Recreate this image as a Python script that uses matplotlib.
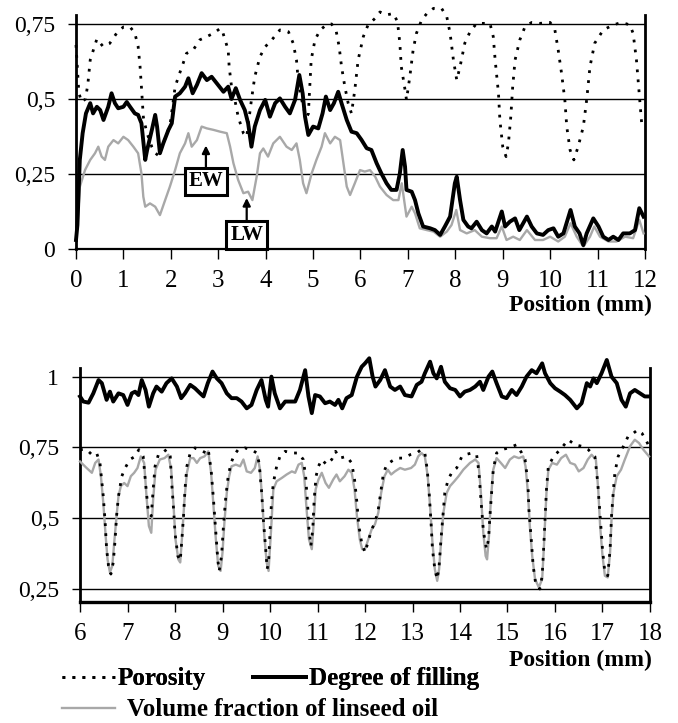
import numpy as np
from matplotlib import pyplot as plt
from matplotlib.lines import Line2D

plt.rcParams["font.family"] = ["Liberation Serif", "DejaVu Serif"]

# --- top panel: 0-12 mm -------------------------------------------------
top_poro_x = [0.0, 0.03, 0.06, 0.12, 0.2, 0.25, 0.30, 0.44, 0.57, 0.71, 0.86, 1.0, 1.14,
              1.24, 1.31, 1.35, 1.38, 1.42, 1.49, 1.60, 1.67, 1.75, 1.88, 1.98, 2.09, 2.16,
              2.26, 2.33, 2.47, 2.61, 2.76, 2.90, 3.04, 3.08, 3.21, 3.23, 3.28, 3.35, 3.42,
              3.53, 3.60, 3.70, 3.77, 3.88, 3.99, 4.13, 4.30, 4.48, 4.58, 4.65, 4.68, 4.72,
              4.79, 4.86, 4.90, 4.93, 4.96, 5.04, 5.15, 5.28, 5.39, 5.49, 5.55, 5.60, 5.67,
              5.74, 5.81, 5.88, 5.95, 6.06, 6.16, 6.31, 6.41, 6.55, 6.69, 6.78, 6.83, 6.86,
              6.94, 6.97, 7.04, 7.11, 7.18, 7.29, 7.40, 7.54, 7.71, 7.82, 7.89, 7.96, 8.03,
              8.10, 8.20, 8.31, 8.45, 8.59, 8.73, 8.80, 8.84, 8.91, 8.94, 9.0, 9.07, 9.12,
              9.17, 9.21, 9.26, 9.36, 9.47, 9.61, 9.78, 10.0, 10.1, 10.17, 10.24, 10.31,
              10.35, 10.42, 10.50, 10.59, 10.70, 10.77, 10.84, 10.94, 11.12, 11.33, 11.51,
              11.68, 11.75, 11.82, 11.86, 11.89, 11.93, 11.97]
top_poro = [0.68, 0.60, 0.52, 0.49, 0.50, 0.55, 0.63, 0.70, 0.675, 0.685, 0.72, 0.74, 0.74,
            0.72, 0.675, 0.61, 0.54, 0.44, 0.39, 0.34, 0.32, 0.31, 0.37, 0.41, 0.54, 0.574,
            0.619, 0.652, 0.663, 0.697, 0.708, 0.719, 0.735, 0.73, 0.663, 0.608, 0.541, 0.497,
            0.441, 0.386, 0.374, 0.497, 0.574, 0.641, 0.674, 0.697, 0.73, 0.724, 0.686, 0.63,
            0.574, 0.53, 0.474, 0.44, 0.45, 0.541, 0.63, 0.697, 0.73, 0.747, 0.75, 0.724,
            0.674, 0.608, 0.541, 0.486, 0.452, 0.53, 0.63, 0.708, 0.747, 0.769, 0.79, 0.78,
            0.785, 0.758, 0.686, 0.608, 0.53, 0.497, 0.574, 0.663, 0.719, 0.763, 0.785, 0.802,
            0.802, 0.774, 0.719, 0.63, 0.563, 0.608, 0.686, 0.724, 0.752, 0.752, 0.752, 0.708,
            0.63, 0.519, 0.43, 0.341, 0.308, 0.352, 0.441, 0.541, 0.63, 0.697, 0.741, 0.755,
            0.752, 0.755, 0.73, 0.663, 0.586, 0.497, 0.408, 0.33, 0.297, 0.341, 0.408, 0.497,
            0.608, 0.686, 0.73, 0.747, 0.755, 0.747, 0.719, 0.63, 0.552, 0.497, 0.419, 0.42]

top_fill_x = [0.0, 0.03, 0.05, 0.08, 0.14, 0.21, 0.30, 0.36, 0.44, 0.51, 0.58, 0.68, 0.75,
              0.82, 0.89, 1.0, 1.07, 1.14, 1.24, 1.31, 1.38, 1.46, 1.50, 1.60, 1.67, 1.71,
              1.77, 1.84, 1.95, 2.02, 2.09, 2.19, 2.30, 2.37, 2.46, 2.55, 2.65, 2.76, 2.86,
              2.97, 3.11, 3.21, 3.28, 3.37, 3.46, 3.56, 3.63, 3.70, 3.77, 3.88, 3.99, 4.09,
              4.20, 4.30, 4.41, 4.51, 4.62, 4.71, 4.78, 4.83, 4.90, 5.0, 5.11, 5.20, 5.27,
              5.36, 5.44, 5.53, 5.60, 5.71, 5.81, 5.92, 6.02, 6.13, 6.23, 6.34, 6.44, 6.55,
              6.65, 6.76, 6.83, 6.89, 6.94, 6.97, 7.08, 7.15, 7.22, 7.32, 7.47, 7.57, 7.68,
              7.78, 7.89, 7.99, 8.03, 8.10, 8.17, 8.27, 8.34, 8.45, 8.56, 8.66, 8.77, 8.84,
              8.98, 9.05, 9.15, 9.26, 9.35, 9.51, 9.61, 9.72, 9.85, 9.96, 10.07, 10.17,
              10.28, 10.43, 10.52, 10.62, 10.70, 10.77, 10.91, 11.02, 11.12, 11.23, 11.33,
              11.44, 11.54, 11.68, 11.79, 11.88, 11.97]
top_fill = [0.03, 0.08, 0.163, 0.297, 0.386, 0.452, 0.486, 0.452, 0.474, 0.463, 0.43, 0.474,
            0.519, 0.486, 0.469, 0.474, 0.49, 0.474, 0.452, 0.447, 0.419, 0.297, 0.33, 0.397,
            0.447, 0.408, 0.319, 0.352, 0.397, 0.419, 0.508, 0.519, 0.541, 0.569, 0.519,
            0.547, 0.586, 0.563, 0.574, 0.552, 0.524, 0.541, 0.5, 0.536, 0.497, 0.463, 0.419,
            0.341, 0.408, 0.463, 0.497, 0.441, 0.486, 0.502, 0.474, 0.452, 0.497, 0.58, 0.519,
            0.441, 0.38, 0.408, 0.402, 0.452, 0.508, 0.463, 0.486, 0.524, 0.486, 0.43, 0.391,
            0.386, 0.364, 0.336, 0.33, 0.286, 0.252, 0.219, 0.197, 0.197, 0.252, 0.33, 0.274,
            0.197, 0.191, 0.163, 0.119, 0.075, 0.069, 0.063, 0.047, 0.075, 0.108, 0.219,
            0.241, 0.163, 0.097, 0.075, 0.069, 0.091, 0.063, 0.052, 0.075, 0.058, 0.125,
            0.075, 0.091, 0.102, 0.063, 0.108, 0.075, 0.052, 0.047, 0.063, 0.069, 0.041,
            0.052, 0.13, 0.075, 0.052, 0.013, 0.052, 0.102, 0.075, 0.041, 0.03, 0.041, 0.03,
            0.052, 0.052, 0.063, 0.136, 0.108]

top_oil_x = [0.0, 0.04, 0.08, 0.19, 0.30, 0.40, 0.47, 0.54, 0.61, 0.68, 0.79, 0.89, 1.0,
             1.10, 1.21, 1.31, 1.38, 1.42, 1.46, 1.56, 1.67, 1.77, 1.88, 1.98, 2.09, 2.19,
             2.30, 2.37, 2.44, 2.55, 2.65, 2.76, 2.90, 3.04, 3.18, 3.25, 3.32, 3.42, 3.53,
             3.63, 3.72, 3.81, 3.88, 3.95, 4.05, 4.16, 4.30, 4.44, 4.55, 4.65, 4.72, 4.79,
             4.86, 4.97, 5.07, 5.18, 5.25, 5.36, 5.46, 5.57, 5.64, 5.71, 5.78, 5.88, 5.99,
             6.09, 6.20, 6.31, 6.41, 6.55, 6.69, 6.80, 6.87, 6.97, 7.08, 7.15, 7.25, 7.40,
             7.54, 7.68, 7.82, 7.92, 8.02, 8.10, 8.24, 8.41, 8.56, 8.73, 8.87, 8.98, 9.08,
             9.22, 9.36, 9.51, 9.68, 9.85, 10.0, 10.17, 10.31, 10.43, 10.56, 10.70, 10.84,
             10.93, 11.05, 11.23, 11.40, 11.58, 11.75, 11.88, 11.97]
top_oil = [0.03, 0.10, 0.207, 0.263, 0.297, 0.319, 0.341, 0.308, 0.297, 0.341, 0.363, 0.352,
           0.374, 0.363, 0.341, 0.319, 0.252, 0.174, 0.141, 0.152, 0.141, 0.113, 0.163, 0.208,
           0.263, 0.319, 0.352, 0.386, 0.341, 0.363, 0.408, 0.402, 0.397, 0.391, 0.386, 0.341,
           0.286, 0.23, 0.186, 0.191, 0.163, 0.241, 0.319, 0.335, 0.308, 0.352, 0.374, 0.341,
           0.33, 0.352, 0.297, 0.219, 0.186, 0.252, 0.297, 0.341, 0.386, 0.352, 0.374, 0.363,
           0.286, 0.208, 0.18, 0.219, 0.263, 0.258, 0.263, 0.241, 0.208, 0.18, 0.163, 0.163,
           0.219, 0.108, 0.141, 0.119, 0.069, 0.063, 0.058, 0.041, 0.058, 0.08, 0.13, 0.063,
           0.052, 0.063, 0.041, 0.036, 0.036, 0.075, 0.03, 0.041, 0.03, 0.063, 0.03, 0.03,
           0.041, 0.025, 0.041, 0.086, 0.041, 0.008, 0.041, 0.075, 0.041, 0.025, 0.025, 0.041,
           0.036, 0.097, 0.052]

# --- bottom panel: 6-18 mm ----------------------------------------------
bot_fill_x = [6.0, 6.07, 6.18, 6.28, 6.39, 6.46, 6.56, 6.63, 6.70, 6.81, 6.91, 7.0, 7.09,
              7.16, 7.23, 7.30, 7.38, 7.45, 7.54, 7.61, 7.72, 7.82, 7.93, 8.04, 8.13, 8.21,
              8.32, 8.42, 8.53, 8.60, 8.69, 8.79, 8.88, 8.98, 9.09, 9.19, 9.30, 9.40, 9.51,
              9.61, 9.72, 9.82, 9.91, 9.96, 10.03, 10.1, 10.21, 10.32, 10.42, 10.53, 10.63,
              10.74, 10.81, 10.88, 10.95, 11.05, 11.16, 11.26, 11.37, 11.44, 11.52, 11.61,
              11.72, 11.83, 11.93, 12.0, 12.09, 12.16, 12.22, 12.32, 12.42, 12.53, 12.63,
              12.74, 12.84, 12.98, 13.09, 13.19, 13.26, 13.37, 13.44, 13.51, 13.6, 13.68,
              13.79, 13.90, 14.0, 14.1, 14.21, 14.32, 14.42, 14.49, 14.6, 14.68, 14.77, 14.88,
              14.98, 15.09, 15.19, 15.30, 15.40, 15.51, 15.61, 15.73, 15.79, 15.90, 16.0,
              16.11, 16.21, 16.32, 16.46, 16.56, 16.67, 16.74, 16.81, 16.88, 16.98, 17.09,
              17.19, 17.30, 17.40, 17.49, 17.58, 17.68, 17.79, 17.89, 17.98]
bot_fill = [0.93, 0.912, 0.908, 0.941, 0.988, 0.977, 0.918, 0.947, 0.912, 0.941, 0.935, 0.90,
            0.941, 0.947, 0.935, 0.988, 0.953, 0.894, 0.941, 0.965, 0.947, 0.977, 0.994, 0.965,
            0.924, 0.941, 0.971, 0.959, 0.941, 0.93, 0.977, 1.018, 0.994, 0.977, 0.941, 0.924,
            0.924, 0.912, 0.888, 0.90, 0.953, 0.988, 0.918, 0.894, 1.0, 0.941, 0.888, 0.912,
            0.912, 0.912, 0.953, 1.023, 0.93, 0.871, 0.935, 0.93, 0.906, 0.912, 0.90, 0.918,
            0.888, 0.924, 0.935, 1.0, 1.035, 1.047, 1.065, 1.0, 0.965, 0.988, 1.023, 0.965,
            0.953, 0.965, 0.935, 0.93, 0.971, 0.982, 1.012, 1.053, 1.012, 0.994, 1.035, 0.982,
            0.959, 0.953, 0.93, 0.947, 0.953, 0.965, 0.982, 0.953, 1.0, 1.018, 0.977, 0.93,
            0.924, 0.953, 0.935, 0.965, 1.0, 1.023, 1.012, 1.047, 1.012, 0.977, 0.959, 0.947,
            0.935, 0.918, 0.888, 0.906, 0.977, 0.965, 0.994, 0.977, 1.012, 1.059, 1.0, 0.977,
            0.918, 0.894, 0.941, 0.953, 0.941, 0.93, 0.93]

bot_poro_x = [6.0, 6.14, 6.25, 6.35, 6.42, 6.49, 6.53, 6.56, 6.60, 6.65, 6.70, 6.74, 6.77,
              6.81, 6.88, 6.95, 7.05, 7.16, 7.24, 7.33, 7.38, 7.44, 7.50, 7.54, 7.58, 7.65,
              7.73, 7.82, 7.90, 7.93, 7.97, 8.0, 8.06, 8.11, 8.14, 8.18, 8.21, 8.25, 8.32,
              8.42, 8.53, 8.65, 8.70, 8.76, 8.81, 8.86, 8.90, 8.93, 8.98, 9.02, 9.07, 9.12,
              9.18, 9.25, 9.33, 9.47, 9.61, 9.72, 9.77, 9.82, 9.86, 9.91, 9.94, 9.97, 10.0,
              10.03, 10.07, 10.14, 10.21, 10.32, 10.46, 10.6, 10.70, 10.75, 10.79, 10.82,
              10.86, 10.90, 10.93, 10.97, 11.02, 11.09, 11.19, 11.30, 11.38, 11.47, 11.61,
              11.72, 11.78, 11.83, 11.87, 11.93, 12.0, 12.07, 12.14, 12.21, 12.28, 12.34,
              12.39, 12.46, 12.56, 12.67, 12.81, 12.95, 13.09, 13.18, 13.26, 13.31, 13.35,
              13.39, 13.42, 13.47, 13.52, 13.56, 13.60, 13.64, 13.68, 13.75, 13.84, 13.93,
              14.04, 14.1, 14.25, 14.35, 14.4, 14.44, 14.49, 14.53, 14.56, 14.6, 14.63, 14.67,
              14.70, 14.77, 14.88, 15.02, 15.19, 15.30, 15.37, 15.43, 15.45, 15.50, 15.54,
              15.59, 15.68, 15.73, 15.76, 15.79, 15.82, 15.86, 15.97, 16.11, 16.28, 16.42,
              16.56, 16.70, 16.84, 16.90, 16.95, 17.0, 17.05, 17.11, 17.16, 17.19, 17.23,
              17.26, 17.33, 17.44, 17.54, 17.65, 17.74, 17.83, 17.91, 17.98]
bot_poro = [0.742, 0.742, 0.724, 0.73, 0.695, 0.577, 0.484, 0.39, 0.331, 0.302, 0.343, 0.425,
            0.507, 0.577, 0.648, 0.677, 0.707, 0.718, 0.742, 0.718, 0.624, 0.519, 0.507, 0.601,
            0.683, 0.724, 0.73, 0.742, 0.718, 0.624, 0.531, 0.448, 0.366, 0.349, 0.413, 0.507,
            0.601, 0.683, 0.73, 0.748, 0.742, 0.73, 0.742, 0.671, 0.566, 0.448, 0.354, 0.313,
            0.366, 0.472, 0.577, 0.648, 0.695, 0.724, 0.742, 0.748, 0.742, 0.73, 0.695, 0.601,
            0.495, 0.39, 0.32, 0.343, 0.448, 0.554, 0.624, 0.683, 0.718, 0.736, 0.73, 0.73,
            0.707, 0.648, 0.554, 0.46, 0.401, 0.46, 0.566, 0.648, 0.683, 0.707, 0.689, 0.707,
            0.736, 0.712, 0.718, 0.695, 0.636, 0.554, 0.472, 0.413, 0.378, 0.419, 0.46, 0.484,
            0.531, 0.601, 0.66, 0.689, 0.701, 0.712, 0.712, 0.724, 0.73, 0.742, 0.73, 0.671,
            0.589, 0.484, 0.39, 0.319, 0.284, 0.331, 0.425, 0.507, 0.589, 0.636, 0.665, 0.677,
            0.718, 0.724, 0.73, 0.724, 0.66, 0.566, 0.46, 0.413, 0.39, 0.425, 0.507, 0.601,
            0.671, 0.73, 0.742, 0.748, 0.759, 0.73, 0.707, 0.624, 0.531, 0.425, 0.331, 0.272,
            0.249, 0.296, 0.39, 0.495, 0.601, 0.683, 0.718, 0.742, 0.777, 0.759, 0.754, 0.742,
            0.718, 0.624, 0.507, 0.39, 0.308, 0.296, 0.39, 0.507, 0.601, 0.66, 0.718, 0.754,
            0.789, 0.80, 0.812, 0.80, 0.777, 0.754]

bot_oil_x = [6.0, 6.14, 6.25, 6.32, 6.39, 6.44, 6.49, 6.54, 6.58, 6.63, 6.68, 6.72, 6.77,
             6.81, 6.86, 6.93, 7.0, 7.07, 7.14, 7.21, 7.28, 7.35, 7.40, 7.45, 7.50, 7.54,
             7.59, 7.68, 7.78, 7.86, 7.92, 7.97, 8.01, 8.07, 8.11, 8.15, 8.20, 8.25, 8.32,
             8.39, 8.46, 8.53, 8.62, 8.70, 8.76, 8.81, 8.86, 8.91, 8.96, 9.0, 9.04, 9.09,
             9.14, 9.19, 9.28, 9.37, 9.44, 9.51, 9.6, 9.68, 9.74, 9.79, 9.84, 9.88, 9.93,
             9.97, 10.02, 10.07, 10.14, 10.25, 10.35, 10.46, 10.53, 10.6, 10.67, 10.72,
             10.77, 10.82, 10.88, 10.92, 10.96, 11.02, 11.09, 11.17, 11.24, 11.33, 11.40,
             11.47, 11.57, 11.65, 11.72, 11.78, 11.83, 11.89, 11.94, 12.0, 12.07, 12.14,
             12.21, 12.28, 12.34, 12.41, 12.48, 12.55, 12.63, 12.74, 12.84, 12.97, 13.05,
             13.12, 13.19, 13.26, 13.32, 13.37, 13.42, 13.47, 13.52, 13.56, 13.60, 13.65,
             13.72, 13.79, 13.88, 13.97, 14.07, 14.21, 14.32, 14.39, 14.44, 14.49, 14.54,
             14.57, 14.61, 14.65, 14.70, 14.77, 14.86, 14.95, 15.05, 15.14, 15.24, 15.33,
             15.38, 15.43, 15.47, 15.52, 15.58, 15.66, 15.73, 15.76, 15.79, 15.82, 15.86,
             15.94, 16.04, 16.13, 16.23, 16.32, 16.42, 16.50, 16.60, 16.69, 16.77, 16.86,
             16.91, 16.95, 17.0, 17.05, 17.11, 17.16, 17.19, 17.23, 17.30, 17.39, 17.47,
             17.58, 17.68, 17.77, 17.86, 17.98]
bot_oil = [0.70, 0.677, 0.66, 0.695, 0.707, 0.648, 0.554, 0.437, 0.354, 0.308, 0.331, 0.413,
           0.507, 0.577, 0.613, 0.624, 0.613, 0.648, 0.66, 0.677, 0.718, 0.695, 0.577, 0.472,
           0.448, 0.566, 0.671, 0.707, 0.712, 0.724, 0.671, 0.542, 0.425, 0.354, 0.343, 0.437,
           0.566, 0.66, 0.712, 0.712, 0.695, 0.712, 0.718, 0.736, 0.66, 0.542, 0.425, 0.331,
           0.313, 0.378, 0.484, 0.589, 0.648, 0.683, 0.689, 0.683, 0.707, 0.665, 0.66, 0.677,
           0.718, 0.671, 0.554, 0.437, 0.343, 0.313, 0.45, 0.601, 0.63, 0.642, 0.654, 0.665,
           0.66, 0.689, 0.695, 0.648, 0.531, 0.425, 0.39, 0.484, 0.601, 0.636, 0.66, 0.624,
           0.607, 0.636, 0.654, 0.63, 0.648, 0.671, 0.66, 0.601, 0.507, 0.425, 0.39, 0.39,
           0.425, 0.46, 0.478, 0.519, 0.589, 0.648, 0.671, 0.654, 0.665, 0.677, 0.671, 0.677,
           0.689, 0.718, 0.73, 0.718, 0.648, 0.542, 0.413, 0.319, 0.278, 0.319, 0.413, 0.519,
           0.589, 0.613, 0.63, 0.648, 0.671, 0.695, 0.707, 0.695, 0.589, 0.448, 0.366, 0.354,
           0.437, 0.566, 0.671, 0.712, 0.695, 0.677, 0.707, 0.718, 0.712, 0.718, 0.683, 0.589,
           0.472, 0.366, 0.284, 0.255, 0.284, 0.378, 0.484, 0.589, 0.671, 0.695, 0.689, 0.712,
           0.724, 0.695, 0.689, 0.665, 0.677, 0.707, 0.724, 0.707, 0.601, 0.472, 0.366, 0.296,
           0.29, 0.378, 0.495, 0.589, 0.648, 0.671, 0.707, 0.754, 0.777, 0.765, 0.742, 0.718]

top_yticks = [0, 0.25, 0.5, 0.75]
top_ylabels = ["0", "0,25", "0,5", "0,75"]
bot_yticks = [0.25, 0.5, 0.75, 1.0]
bot_ylabels = ["0,25", "0,5", "0,75", "1"]

GRAY = "#a8a8a8"
poro_style = dict(color="black", lw=2.0, linestyle=(0, (1, 2.6)), dash_capstyle="butt")
fill_style = dict(color="black", lw=2.8, solid_joinstyle="round")
oil_style = dict(color=GRAY, lw=1.7)

fig = plt.figure(figsize=(6.78, 7.23), dpi=100)
ax1 = fig.add_axes([0.1121, 0.6556, 0.8392, 0.3237])
ax2 = fig.add_axes([0.1180, 0.1678, 0.8407, 0.3232])


def style_axes(ax, xlim, ylim, yticks, ylabels, bottom_lw):
    ax.set_xlim(*xlim)
    ax.set_ylim(*ylim)
    ax.set_xticks(range(int(xlim[0]), int(xlim[1]) + 1))
    ax.set_yticks(yticks)
    ax.set_yticklabels(ylabels)
    ax.spines["top"].set_visible(False)
    ax.spines["left"].set_linewidth(2.0)
    ax.spines["right"].set_linewidth(2.0)
    ax.spines["bottom"].set_linewidth(bottom_lw)
    ax.tick_params(axis="y", direction="out", length=6, width=1, pad=9, labelsize=17)
    ax.tick_params(axis="x", direction="out", length=7, width=1, pad=8, labelsize=18)
    ax.grid(axis="y", color="black", lw=1.0)
    ax.set_axisbelow(True)


style_axes(ax1, (0, 12), (0, 0.78), top_yticks, top_ylabels, 1.6)
style_axes(ax2, (6, 18), (0.2043, 1.0306), bot_yticks, bot_ylabels, 2.4)

ax1.plot(top_oil_x, top_oil, zorder=3, clip_on=False, **oil_style)
ax1.plot(top_poro_x, top_poro, zorder=4, clip_on=False, **poro_style)
ax1.plot(top_fill_x, top_fill, zorder=5, clip_on=False, **fill_style)

ax2.plot(bot_oil_x, bot_oil, zorder=3, clip_on=False, **oil_style)
ax2.plot(bot_poro_x, bot_poro, zorder=4, clip_on=False, **poro_style)
ax2.plot(bot_fill_x, bot_fill, zorder=5, clip_on=False, **fill_style)

# earlywood / latewood markers
box = dict(boxstyle="square,pad=0.18", fc="white", ec="black", lw=2.2)
arrow = dict(arrowstyle="-|>", color="black", lw=1.6, mutation_scale=11, shrinkA=0, shrinkB=0)
ax1.annotate("EW", xy=(2.74, 0.345), xytext=(2.74, 0.225), ha="center", va="center",
             fontsize=15, fontweight="bold", bbox=box, arrowprops=arrow, zorder=6)
ax1.annotate("LW", xy=(3.60, 0.17), xytext=(3.60, 0.047), ha="center", va="center",
             fontsize=15, fontweight="bold", bbox=box, arrowprops=arrow, zorder=6)

fig.text(652 / 678, 1 - 305 / 723, "Position (mm)", ha="right", va="center",
         fontsize=17, fontweight="bold")
fig.text(652 / 678, 1 - 660 / 723, "Position (mm)", ha="right", va="center",
         fontsize=17, fontweight="bold")

# legend
h_poro = Line2D([], [], **poro_style)
h_fill = Line2D([], [], **fill_style)
h_oil = Line2D([], [], **oil_style)
leg_font = dict(family=["Liberation Serif"], weight="bold", size=18)
leg1 = fig.legend([h_poro, h_fill], ["Porosity", "Degree of filling"], ncol=2,
                  loc="center left", bbox_to_anchor=(62 / 678, 1 - 679 / 723),
                  frameon=False, prop=leg_font, handlelength=2.1, handletextpad=0.12,
                  columnspacing=1.9, borderpad=0, borderaxespad=0)
fig.legend([h_oil], ["Volume fraction of linseed oil"],
           loc="center left", bbox_to_anchor=(62 / 678, 1 - 710 / 723),
           frameon=False, prop=leg_font, handlelength=2.1, handletextpad=0.5,
           borderpad=0, borderaxespad=0)
fig.add_artist(leg1)

fig.savefig("out.png", dpi=100)
